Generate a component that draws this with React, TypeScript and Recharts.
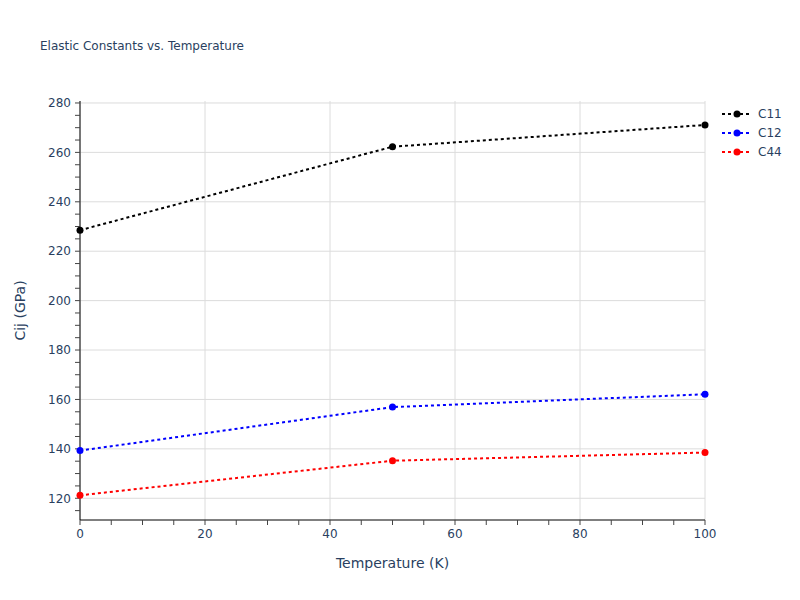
import { CartesianGrid, Label, Line, LineChart, XAxis, YAxis } from "recharts";

const temps = [0, 50, 100];
const c11 = [228.5, 262.3, 271.1];
const c12 = [139.3, 156.9, 162.1];
const c44 = [121.2, 135.2, 138.5];

const xTicks = [0, 5, 10, 15, 20, 25, 30, 35, 40, 45, 50, 55, 60, 65, 70, 75, 80, 85, 90, 95, 100];
const yTicks = [115, 120, 125, 130, 135, 140, 145, 150, 155, 160, 165, 170, 175, 180, 185, 190, 195, 200, 205, 210, 215, 220, 225, 230, 235, 240, 245, 250, 255, 260, 265, 270, 275, 280];
const xMajor = [0, 20, 40, 60, 80, 100];
const yMajor = [120, 140, 160, 180, 200, 220, 240, 260, 280];

const series = [
  { key: "C11", color: "#000000" },
  { key: "C12", color: "#0000ff" },
  { key: "C44", color: "#ff0000" },
];

const data = temps.map((t, i) => ({ t, C11: c11[i], C12: c12[i], C44: c44[i] }));

const FONT = "'DejaVu Sans', verdana, arial, sans-serif";
const INK = "#2a3f5f";

function LegendBox() {
  return (
    <div style={{ position: "absolute", left: 720, top: 104, fontFamily: FONT, fontSize: 12, color: INK }}>
      {series.map((s) => (
        <div key={s.key} style={{ display: "flex", alignItems: "center", height: 19 }}>
          <svg width={36} height={10}>
            <line x1={2} y1={5} x2={32} y2={5} stroke={s.color} strokeWidth={2} strokeDasharray="3 3" />
            <circle cx={17} cy={5} r={3.5} fill={s.color} />
          </svg>
          <span style={{ marginLeft: 2 }}>{s.key}</span>
        </div>
      ))}
    </div>
  );
}

export default function App() {
  return (
    <div style={{ position: "absolute", left: 0, top: 0, width: 800, height: 600, background: "#fff" }}>
      <div
        style={{
          position: "absolute",
          left: 40,
          top: 39,
          fontFamily: FONT,
          fontSize: 12,
          color: INK,
          whiteSpace: "nowrap",
        }}
      >
        Elastic Constants vs. Temperature
      </div>
      <LineChart width={800} height={600} data={data} margin={{ top: 101, right: 95, bottom: 30, left: 0 }}>
        <CartesianGrid
          stroke="#dcdcdc"
          strokeWidth={1}
          horizontalValues={yMajor}
          verticalValues={xMajor}
        />
        <XAxis
          dataKey="t"
          type="number"
          domain={[0, 100]}
          ticks={xTicks}
          interval={0}
          height={50}
          tickFormatter={(v: number) => (v % 20 === 0 ? String(v) : "")}
          tick={{ fill: INK, fontSize: 12, fontFamily: FONT }}
          tickSize={5}
          tickMargin={4}
          tickLine={{ stroke: "#444" }}
          axisLine={{ stroke: "#000", strokeWidth: 1 }}
        >
          <Label
            value="Temperature (K)"
            position="insideBottom"
            offset={2}
            style={{ fill: INK, fontSize: 14, fontFamily: FONT }}
          />
        </XAxis>
        <YAxis
          type="number"
          domain={[111.2, 280.8]}
          ticks={yTicks}
          interval={0}
          width={80}
          tickFormatter={(v: number) => (v % 20 === 0 ? String(v) : "")}
          tick={{ fill: INK, fontSize: 12, fontFamily: FONT }}
          tickSize={5}
          tickMargin={4}
          tickLine={{ stroke: "#444" }}
          axisLine={{ stroke: "#000", strokeWidth: 1 }}
        >
          <Label
            value="Cij (GPa)"
            angle={-90}
            position="insideLeft"
            offset={20}
            style={{ fill: INK, fontSize: 14, fontFamily: FONT, textAnchor: "middle" }}
          />
        </YAxis>
        {series.map((s) => (
          <Line
            key={s.key}
            type="linear"
            dataKey={s.key}
            stroke={s.color}
            strokeWidth={2}
            strokeDasharray="3 3"
            dot={{ r: 3.5, fill: s.color, stroke: s.color, strokeWidth: 0 }}
            activeDot={false}
            isAnimationActive={false}
          />
        ))}
      </LineChart>
      <LegendBox />
    </div>
  );
}
